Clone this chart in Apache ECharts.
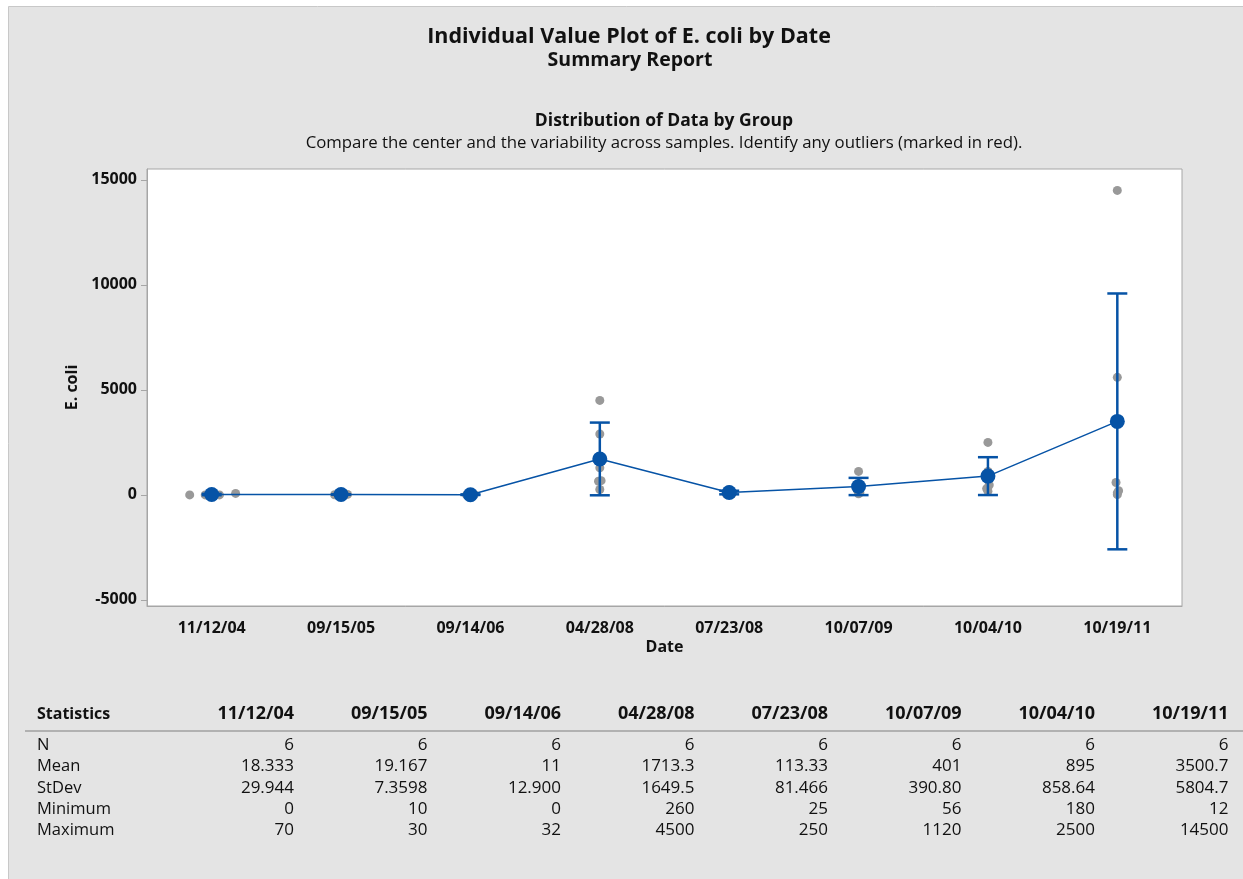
<!DOCTYPE html>
<html>
<head>
<meta charset="utf-8">
<title>Individual Value Plot of E. coli by Date</title>
<script src="https://cdn.jsdelivr.net/npm/echarts@6/dist/echarts.min.js"></script>
<style>
    html, body { margin: 0; padding: 0; background: #ffffff; }
    #chartBox { width: 1243px; height: 879px; }
</style>
</head>
<body>
<div id="chartBox"></div>
<script>
// 分组（日期）
var dates = ['11/12/04', '09/15/05', '09/14/06', '04/28/08', '07/23/08', '10/07/09', '10/04/10', '10/19/11'];

// 各组的单个观测值 (E. coli)
var eColi = [
    [0, 0, 0, 0, 40, 70],
    [10, 15, 15, 20, 25, 30],
    [0, 0, 2, 13, 19, 32],
    [260, 650, 680, 1290, 2900, 4500],
    [25, 40, 95, 130, 140, 250],
    [56, 100, 235, 400, 495, 1120],
    [180, 300, 470, 800, 1120, 2500],
    [12, 100, 200, 592, 5600, 14500]
];

// 点的水平抖动（以组宽为单位）
var jitter = [
    [-0.17, -0.05, 0.0, 0.06, 0.02, 0.185],
    [-0.05, -0.02, 0.01, 0.03, 0.05, 0.0],
    [-0.03, 0.02, 0.0, -0.01, 0.03, 0.01],
    [0.0, -0.01, 0.01, 0.0, 0.0, 0.0],
    [-0.02, 0.02, 0.0, 0.01, -0.01, 0.0],
    [0.0, 0.01, -0.01, 0.0, 0.01, 0.0],
    [0.0, -0.01, 0.01, 0.0, 0.0, 0.0],
    [0.0, 0.0, 0.01, -0.01, 0.0, 0.0]
];

// 统计表
var statN = ['6', '6', '6', '6', '6', '6', '6', '6'];
var statMean = ['18.333', '19.167', '11', '1713.3', '113.33', '401', '895', '3500.7'];
var statStDev = ['29.944', '7.3598', '12.900', '1649.5', '81.466', '390.80', '858.64', '5804.7'];
var statMin = ['0', '10', '0', '260', '25', '56', '180', '12'];
var statMax = ['70', '30', '32', '4500', '250', '1120', '2500', '14500'];

var yTicks = [-5000, 0, 5000, 10000, 15000];

(function(){
    var _blue = '#0653a6',
        _grey = '#999999',
        _font = '"Open Sans", "Noto Sans", sans-serif',
        _tValue = 2.5706,   // t(0.975, 5)
        _chart;

    function getPoints(){
        var _list = [];
        for(var i = 0; i < eColi.length; i++){
            for(var j = 0; j < eColi[i].length; j++){
                _list.push([i + jitter[i][j], eColi[i][j]]);
            }
        }
        return _list;
    }

    // 均值的95%置信区间
    function getIntervals(){
        var _list = [];
        for(var i = 0; i < dates.length; i++){
            var _m = parseFloat(statMean[i]),
                _half = _tValue * parseFloat(statStDev[i]) / Math.sqrt(parseFloat(statN[i]));
            _list.push([i, _m - _half, _m + _half]);
        }
        return _list;
    }

    function renderInterval(params, api){
        var _lo = api.coord([api.value(0), api.value(1)]),
            _hi = api.coord([api.value(0), api.value(2)]),
            _w = 10,
            _style = {stroke: _blue, lineWidth: 2.5};
        return {
            type: 'group',
            children: [
                {type: 'line', shape: {x1: _hi[0], y1: _hi[1], x2: _lo[0], y2: _lo[1]}, style: _style},
                {type: 'line', shape: {x1: _hi[0] - _w, y1: _hi[1], x2: _hi[0] + _w, y2: _hi[1]}, style: _style},
                {type: 'line', shape: {x1: _lo[0] - _w, y1: _lo[1], x2: _lo[0] + _w, y2: _lo[1]}, style: _style}
            ]
        };
    }

    function text(_x, _y, _str, _size, _bold, _align){
        return {
            type: 'text',
            x: _x,
            y: _y,
            style: {
                text: _str,
                fill: '#111111',
                font: (_bold ? 'bold ' : '') + _size + 'px ' + _font,
                textAlign: _align || 'center',
                textVerticalAlign: 'middle'
            }
        };
    }

    // 标题与统计表
    function getGraphics(){
        var _list = [
            {
                type: 'rect', z: -10,
                shape: {x: 8.5, y: 6.5, width: 1250, height: 880},
                style: {fill: '#e4e4e4', stroke: '#c8c8c8', lineWidth: 1}
            },
            text(629, 37, 'Individual Value Plot of E. coli by Date', 21.5, true),
            text(630, 60, 'Summary Report', 19.5, true),
            text(664, 121, 'Distribution of Data by Group', 17.5, true),
            text(664, 143, 'Compare the center and the variability across samples. Identify any outliers (marked in red).', 16.8, false),
            {
                type: 'line',
                shape: {x1: 25, y1: 731, x2: 1243, y2: 731},
                style: {stroke: '#a0a0a0', lineWidth: 1.5}
            }
        ];
        var _rows = [
                {name: 'N', values: statN},
                {name: 'Mean', values: statMean},
                {name: 'StDev', values: statStDev},
                {name: 'Minimum', values: statMin},
                {name: 'Maximum', values: statMax}
            ],
            _rowY = [745, 766, 788, 809, 830];

        _list.push(text(37, 714, 'Statistics', 16, true, 'left'));
        for(var i = 0; i < dates.length; i++){
            _list.push(text(294 + i * 133.5, 714, dates[i], 18, true, 'right'));
        }
        for(var r = 0; r < _rows.length; r++){
            _list.push(text(37, _rowY[r], _rows[r].name, 16.5, false, 'left'));
            for(var c = 0; c < _rows[r].values.length; c++){
                _list.push(text(294 + c * 133.5, _rowY[r], _rows[r].values[c], 17, false, 'right'));
            }
        }
        return _list;
    }

    function getParams(){
        var _axisLine = {show: true, onZero: false, lineStyle: {color: '#a6a6a6', width: 1}},
            _label = {color: '#111111', fontWeight: 'bold', fontSize: 16, fontFamily: _font};
        return {
            animation: false,
            backgroundColor: '#ffffff',
            textStyle: {fontFamily: _font},
            graphic: {elements: getGraphics()},
            grid: {
                left: 147, top: 169, width: 1035, height: 437,
                show: true, backgroundColor: '#ffffff',
                borderColor: '#a6a6a6', borderWidth: 1
            },
            xAxis: [
                {
                    type: 'category',
                    data: dates,
                    boundaryGap: true,
                    name: 'Date',
                    nameLocation: 'middle',
                    nameGap: 33,
                    nameTextStyle: _label,
                    axisLine: _axisLine,
                    axisTick: {alignWithLabel: true, length: 6, lineStyle: {color: '#a6a6a6'}},
                    axisLabel: Object.assign({margin: 14}, _label),
                    splitLine: {show: false}
                },
                {
                    type: 'value',
                    min: -0.5,
                    max: 7.5,
                    show: false
                }
            ],
            yAxis: {
                type: 'value',
                min: -5290,
                max: 15520,
                name: 'E. coli',
                nameLocation: 'middle',
                nameGap: 66,
                nameTextStyle: _label,
                axisLine: _axisLine,
                axisTick: {show: true, length: 6, customValues: yTicks, lineStyle: {color: '#a6a6a6'}},
                axisLabel: Object.assign({
                    margin: 10,
                    customValues: yTicks,
                    formatter: function(_v){ return String(_v); }
                }, _label),
                splitLine: {show: false}
            },
            series: [
                {
                    name: 'E. coli',
                    type: 'scatter',
                    xAxisIndex: 1,
                    symbolSize: 9,
                    itemStyle: {color: _grey, opacity: 1},
                    data: getPoints(),
                    z: 2
                },
                {
                    name: '95% CI',
                    type: 'custom',
                    xAxisIndex: 0,
                    renderItem: renderInterval,
                    encode: {x: 0, y: [1, 2]},
                    data: getIntervals(),
                    z: 3
                },
                {
                    name: 'Mean',
                    type: 'line',
                    xAxisIndex: 0,
                    data: statMean.map(parseFloat),
                    symbol: 'circle',
                    symbolSize: 15,
                    lineStyle: {color: _blue, width: 1.5},
                    itemStyle: {color: _blue},
                    z: 4
                }
            ]
        };
    }

    function renderChartBox(){
        _chart = echarts.init(document.getElementById('chartBox'));
        _chart.setOption(getParams());
    }

    renderChartBox();
})();
</script>
</body>
</html>
